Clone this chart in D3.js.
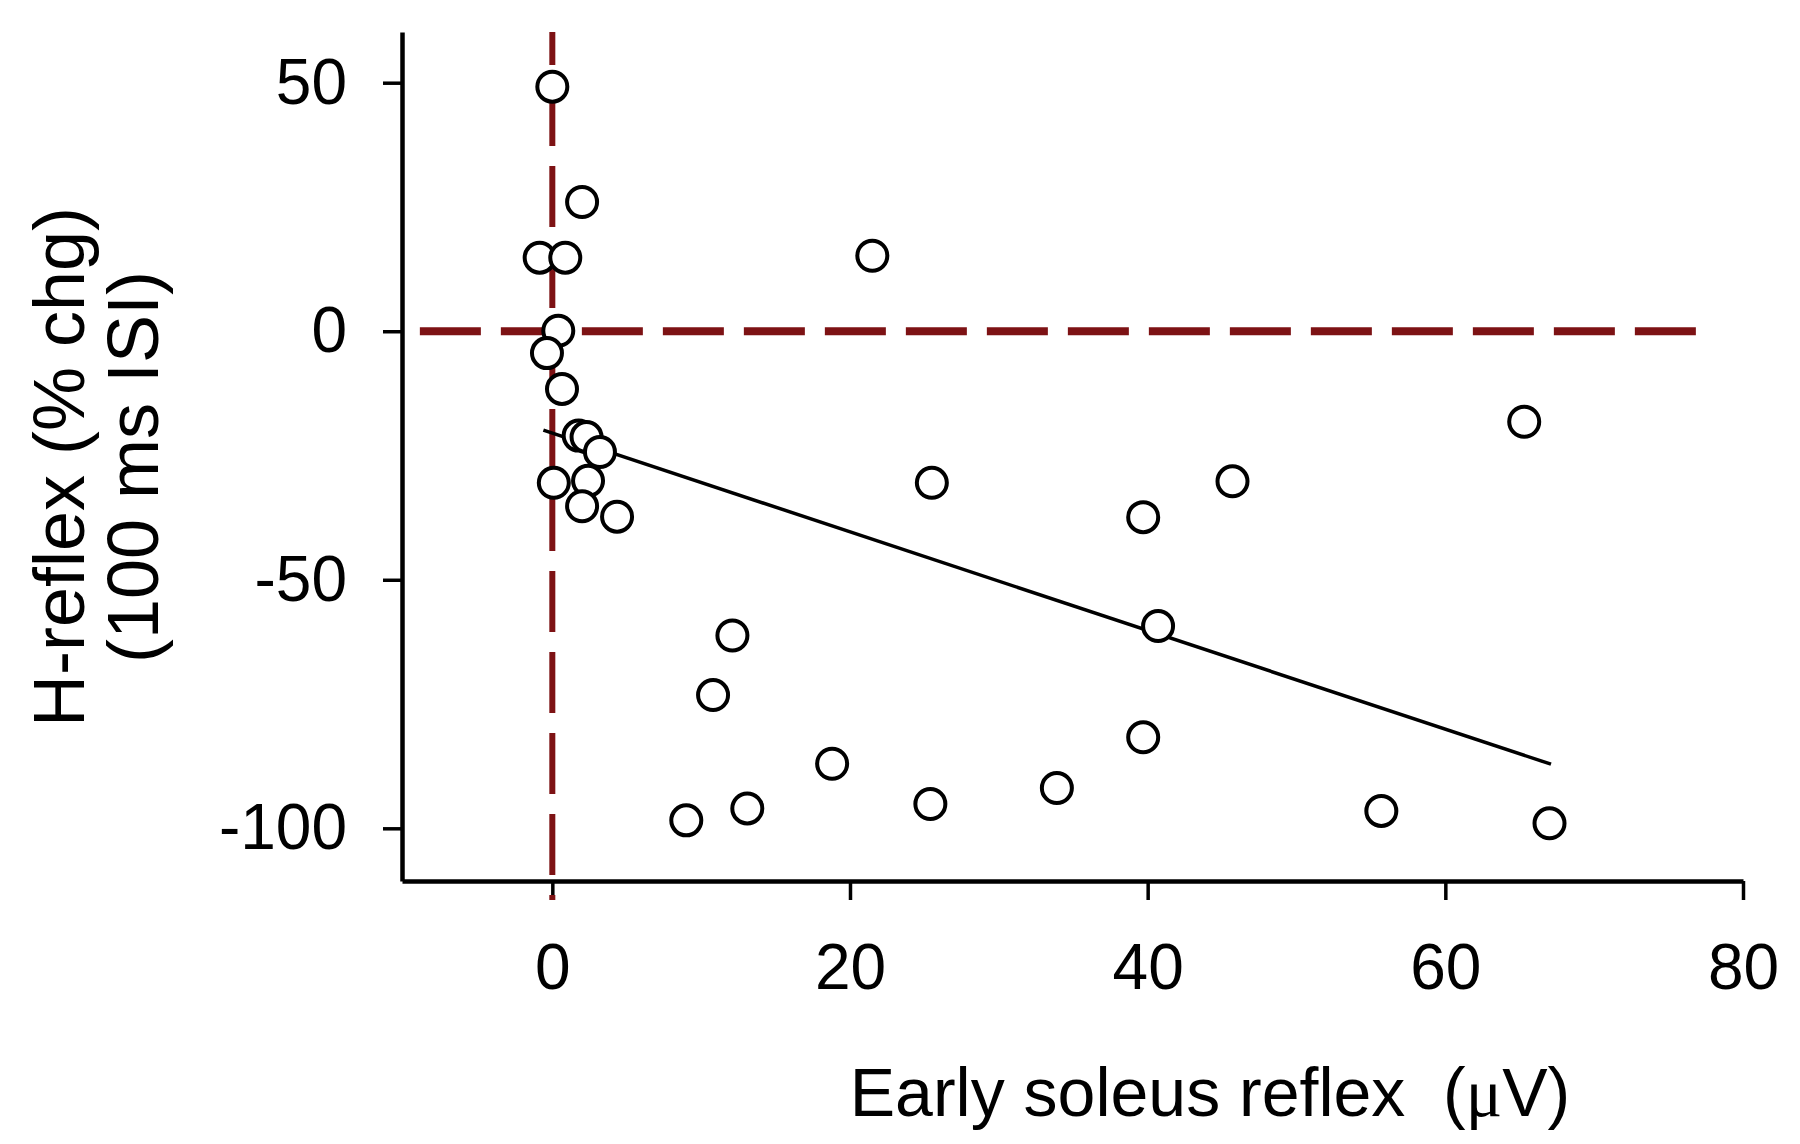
<!DOCTYPE html>
<html>
<head>
<meta charset="utf-8">
<script src="https://cdn.jsdelivr.net/npm/d3@7"></script>
<style>
  body { margin: 0; background: #fff; }
  svg { display: block; }
  text { font-family: "Liberation Sans", Arial, sans-serif; fill: #000; }
</style>
</head>
<body>
<script>
// Early soleus reflex (uV) vs H-reflex change (%)
const reflexX = [0, 2.0, -0.85, 0.87, 21.5, 0.4, -0.36, 0.65, 1.77, 2.3, 3.2, 0.1, 2.4, 2.0, 4.35,
                 25.5, 39.7, 45.7, 65.3, 40.7, 12.1, 10.8, 18.8, 39.7, 33.9, 25.4, 13.1, 9.0, 55.7, 67.0];
const hReflexY = [49.2, 26.0, 14.8, 14.8, 15.2, 0.1, -4.4, -11.6, -21.0, -21.3, -24.3, -30.5, -30.1, -35.2, -37.3,
                  -30.5, -37.4, -30.2, -18.2, -59.3, -61.2, -73.2, -87.0, -81.7, -91.9, -95.1, -96.0, -98.4, -96.5, -99.0];

// regression line end points
const fitX = [-0.6, 67.1];
const fitY = [-19.9, -87.1];

const xTicks = [0, 20, 40, 60, 80];
const yTicks = [-100, -50, 0, 50];

const xDomain = [-10.1, 80];
const yDomain = [-110.6, 60.2];

const width = 1800, height = 1144;
const red = "#7d1214";
const tickLen = 19;

const svg = d3.select("body")
    .append("svg")
    .attr("width", width)
    .attr("height", height);

const x = d3.scaleLinear().domain(xDomain).range([402, 1743]);
const y = d3.scaleLinear().domain(yDomain).range([881, 32]);

// dashed reference line at y = 0
svg.append("line")
    .attr("x1", x(-8.9)).attr("x2", x(77.5))
    .attr("y1", y(0)).attr("y2", y(0))
    .attr("stroke", red)
    .attr("stroke-width", 8)
    .attr("stroke-dasharray", "61,20");

// axes (plain hyphen for negatives, like the original)
const fmt = d => String(d);

const xAxis = svg.append("g")
    .attr("transform", `translate(0,${y.range()[0]})`)
    .call(d3.axisBottom(x).tickValues(xTicks).tickFormat(fmt)
        .tickSize(tickLen).tickSizeOuter(0).tickPadding(44));

const yAxis = svg.append("g")
    .attr("transform", `translate(${x.range()[0]},0)`)
    .call(d3.axisLeft(y).tickValues(yTicks).tickFormat(fmt)
        .tickSize(tickLen).tickSizeOuter(0).tickPadding(36));

[xAxis, yAxis].forEach(a => {
    a.select(".domain").attr("stroke", "#000").attr("stroke-width", 4.5);
    a.selectAll(".tick line").attr("stroke", "#000").attr("stroke-width", 3.5);
    a.selectAll(".tick text")
        .attr("font-size", 64)
        .attr("font-family", "Liberation Sans, Arial, sans-serif")
        .attr("fill", "#000");
});

// dashed reference line at x = 0 (runs over the 0 tick)
svg.append("line")
    .attr("x1", x(0)).attr("x2", x(0))
    .attr("y1", y.range()[1]).attr("y2", y.range()[0] + tickLen)
    .attr("stroke", red)
    .attr("stroke-width", 6)
    .attr("stroke-dasharray", "61,20")
    .attr("stroke-dashoffset", 28);

// fit line
svg.append("line")
    .attr("x1", x(fitX[0])).attr("y1", y(fitY[0]))
    .attr("x2", x(fitX[1])).attr("y2", y(fitY[1]))
    .attr("stroke", "#000")
    .attr("stroke-width", 3.5);

// data points
svg.selectAll(".pt")
    .data(reflexX.map((d, i) => [d, hReflexY[i]]))
    .enter()
    .append("circle")
    .attr("class", "pt")
    .attr("cx", d => x(d[0]))
    .attr("cy", d => y(d[1]))
    .attr("r", 15)
    .attr("fill", "#fff")
    .attr("stroke", "#000")
    .attr("stroke-width", 4);

// axis titles
const xt = svg.append("text")
    .attr("x", 1210)
    .attr("y", 1116)
    .attr("text-anchor", "middle")
    .attr("font-size", 68);
xt.append("tspan").text("Early soleus reflex\u00a0\u00a0(");
xt.append("tspan").attr("font-family", "Liberation Serif, Times New Roman, serif").text("\u03bc");
xt.append("tspan").text("V)");

const yt = svg.append("g")
    .attr("transform", "translate(0,467) rotate(-90)")
    .attr("text-anchor", "middle");
yt.append("text").attr("x", 0).attr("y", 84).attr("font-size", 72).text("H-reflex (% chg)");
yt.append("text").attr("x", 0).attr("y", 158).attr("font-size", 72).text("(100 ms ISI)");
</script>
</body>
</html>
